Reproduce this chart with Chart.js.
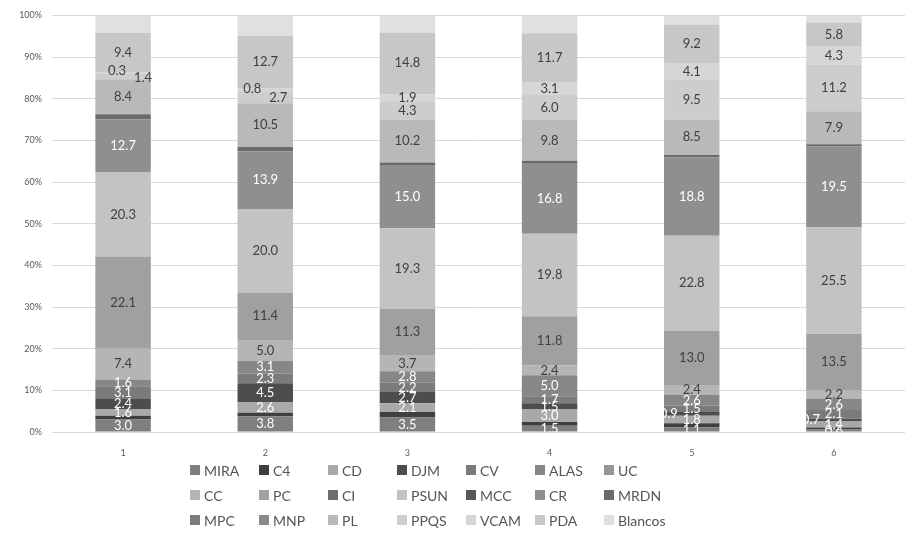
<!DOCTYPE html>
<html>
<head>
<meta charset="utf-8">
<script src="https://cdn.jsdelivr.net/npm/chart.js@4.4.0/dist/chart.umd.min.js"></script>
<style>
  html, body { margin: 0; padding: 0; background: #fff; }
  #wrap { position: relative; width: 919px; height: 536px; }
  #legend {
    position: absolute; left: 190px; top: 461px;
    display: grid; grid-template-columns: repeat(7, 69px); row-gap: 7px;
    font-family: Lato, sans-serif; font-size: 14px; color: #555555;
  }
  .item { display: flex; align-items: center; height: 18px; white-space: nowrap; }
  .box { width: 10px; height: 10px; margin-right: 4px; flex: none; }
</style>
</head>
<body>
<div id="wrap">
  <canvas id="chart"></canvas>
  <div id="legend"></div>
</div>
<script>
// categories (bars) and one array per party, bottom of stack first
const categories = ['1', '2', '3', '4', '5', '6'];

const MIRA    = [3.0, 3.8, 3.5, 1.5, 1.1, 0.6];
const C4      = [0.9, 0.8, 1.3, 0.9, 1.0, 0.5];
const CD      = [1.6, 2.6, 2.1, 3.0, 1.8, 1.4];
const DJM     = [2.4, 4.5, 2.7, 1.5, 0.9, 0.7];
const CV      = [3.1, 2.3, 2.2, 1.7, 1.5, 2.1];
const ALAS    = [1.6, 3.1, 2.8, 5.0, 2.6, 2.6];
const UC      = [0, 0, 0, 0, 0, 0];
const CC      = [7.4, 5.0, 3.7, 2.4, 2.4, 2.2];
const PC      = [22.1, 11.4, 11.3, 11.8, 13.0, 13.5];
const CI      = [0, 0, 0, 0, 0, 0];
const PSUN    = [20.3, 20.0, 19.3, 19.8, 22.8, 25.5];
const MCC     = [0, 0, 0, 0, 0, 0];
const CR      = [12.7, 13.9, 15.0, 16.8, 18.8, 19.5];
const MRDN    = [1.2, 1.0, 0.8, 0.7, 0.6, 0.5];
const MPC     = [0, 0, 0, 0, 0, 0];
const MNP     = [0, 0, 0, 0, 0, 0];
const PL      = [8.4, 10.5, 10.2, 9.8, 8.5, 7.9];
const PPQS    = [1.4, 2.7, 4.3, 6.0, 9.5, 11.2];
const VCAM    = [0.3, 0.8, 1.9, 3.1, 4.1, 4.3];
const PDA     = [9.4, 12.7, 14.8, 11.7, 9.2, 5.8];
const Blancos = [4.2, 4.9, 4.1, 4.3, 2.2, 1.7];

const yTicks = [0, 10, 20, 30, 40, 50, 60, 70, 80, 90, 100];

const series = [
    ['MIRA', MIRA, '#7f7f7f'],
    ['C4', C4, '#3f3f3f'],
    ['CD', CD, '#a9a9a9'],
    ['DJM', DJM, '#4d4d4d'],
    ['CV', CV, '#7b7b7b'],
    ['ALAS', ALAS, '#878787'],
    ['UC', UC, '#969696'],
    ['CC', CC, '#b5b5b5'],
    ['PC', PC, '#a0a0a0'],
    ['CI', CI, '#6e6e6e'],
    ['PSUN', PSUN, '#c3c3c3'],
    ['MCC', MCC, '#595959'],
    ['CR', CR, '#8f8f8f'],
    ['MRDN', MRDN, '#6a6a6a'],
    ['MPC', MPC, '#7d7d7d'],
    ['MNP', MNP, '#8b8b8b'],
    ['PL', PL, '#b9b9b9'],
    ['PPQS', PPQS, '#cdcdcd'],
    ['VCAM', VCAM, '#d6d6d6'],
    ['PDA', PDA, '#c7c7c7'],
    ['Blancos', Blancos, '#e0e0e0']
];

// label look
const noLabel = ['C4', 'MRDN', 'Blancos'];
const whiteText = ['MIRA', 'C4', 'CD', 'DJM', 'CV', 'ALAS', 'CI', 'MCC', 'CR', 'MRDN', 'MPC', 'MNP'];
// nudges for labels that collide in narrow segments: {series: {barIndex: [dx, dy]}}
const labelShift = {
    VCAM: { 0: [-6, -2], 1: [-13, -2] },
    PPQS: { 0: [20, 2], 1: [13, 0] },
    DJM: { 4: [-23, 0], 5: [-23, 0] }
};

const segLabels = {
    id: 'segLabels',
    afterDatasetsDraw(chart) {
        const ctx = chart.ctx;
        const area = chart.chartArea;
        ctx.save();
        ctx.beginPath();
        ctx.rect(area.left - 40, area.top, area.width + 80, area.height);
        ctx.clip();
        ctx.font = '13px Lato';
        ctx.textAlign = 'center';
        ctx.textBaseline = 'middle';
        chart.data.datasets.forEach((ds, i) => {
            if (noLabel.includes(ds.label)) return;
            const meta = chart.getDatasetMeta(i);
            meta.data.forEach((bar, j) => {
                const v = ds.data[j];
                if (!v) return;
                const p = bar.getCenterPoint();
                const off = (labelShift[ds.label] || {})[j] || [0, 0];
                ctx.fillStyle = whiteText.includes(ds.label) ? '#ffffff' : '#404040';
                ctx.fillText(v.toFixed(1), p.x + off[0], p.y + off[1]);
            });
        });
        ctx.restore();
    }
};

const chart = new Chart(document.getElementById('chart').getContext('2d'), {
    type: 'bar',
    data: {
        labels: categories,
        datasets: series.map(([name, values, color]) => ({
            label: name,
            data: values,
            backgroundColor: color,
            borderWidth: 0,
            barPercentage: 0.39,
            categoryPercentage: 1.0
        }))
    },
    options: {
        responsive: true,
        maintainAspectRatio: false,
        animation: false,
        layout: { padding: { top: 10, right: 14, bottom: 0, left: 0 } },
        plugins: {
            legend: { display: false },
            tooltip: { enabled: false }
        },
        scales: {
            x: {
                stacked: true,
                grid: { display: false },
                border: { display: false },
                ticks: { color: '#595959', font: { family: 'Lato', size: 9 }, padding: 8 },
                afterFit: s => { s.height = 104; }
            },
            y: {
                stacked: true,
                min: 0,
                max: 100,
                afterBuildTicks: s => { s.ticks = yTicks.map(v => ({ value: v })); },
                grid: { color: '#d9d9d9', drawTicks: false },
                border: { display: false },
                ticks: {
                    color: '#595959',
                    font: { family: 'Lato', size: 9 },
                    padding: 10,
                    callback: v => v + '%'
                },
                afterFit: s => { s.width = 52; }
            }
        }
    },
    plugins: [segLabels]
});

// legend in a 7-column grid, built from the chart datasets
const legend = document.getElementById('legend');
chart.data.datasets.forEach(ds => {
    const item = document.createElement('div');
    item.className = 'item';
    item.innerHTML = `<span class="box" style="background:${ds.backgroundColor}"></span>${ds.label}`;
    legend.appendChild(item);
});
</script>
</body>
</html>
